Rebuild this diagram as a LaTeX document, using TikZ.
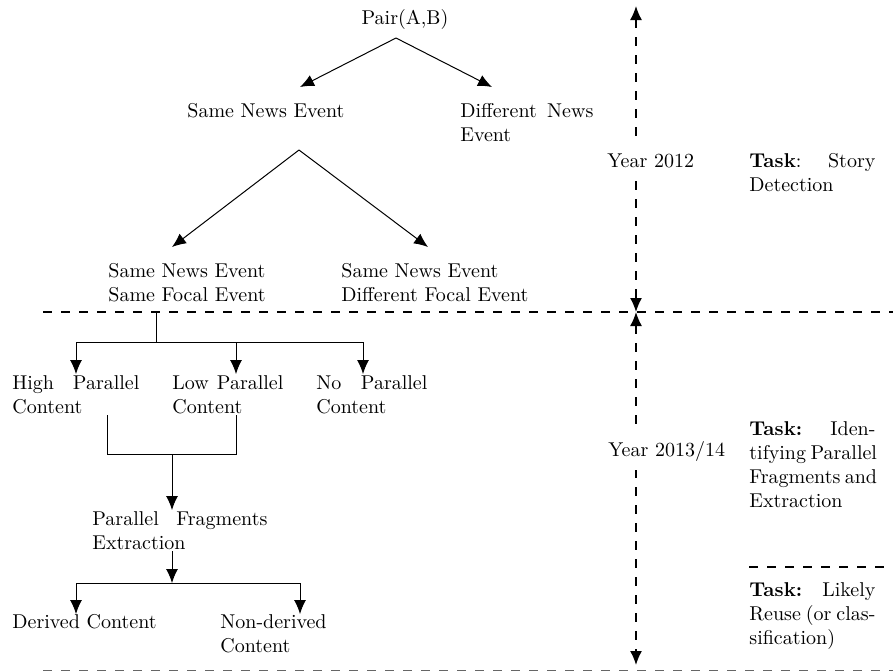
\documentclass[tikz,border=0pt]{standalone}
\usetikzlibrary{arrows.meta}
\newcommand{\jl}[2]{\makebox[#1][s]{\spaceskip=0pt\xspaceskip=0pt\relax #2}}
\begin{document}
\begin{tikzpicture}[x=0.5pt,y=-0.5pt,
  lbl/.style={inner sep=0pt, anchor=base west, align=left},
  conn/.style={line width=0.5pt},
  arr/.style={conn,-{Latex[length=7pt,width=6pt]}},
  dline/.style={line width=0.75pt, dash pattern=on 4.5pt off 4.5pt},
  ddarr/.style={dline,{Latex[length=7pt,width=6pt]}-{Latex[length=7pt,width=6pt]}},
  yearlbl/.style={inner xsep=1pt, inner ysep=4.5pt, anchor=base west, fill=white}]
\useasboundingbox (0,0) rectangle (893,670);

% dashed separators and time axis
\coordinate (hl) at (43,312);
\coordinate (hr) at (893,312);
\coordinate (vtop) at (636,6);
\coordinate (vmid) at (636,312);
\coordinate (vbot) at (636,665);
\coordinate (sl) at (749,567);
\coordinate (sr) at (893,567);
\coordinate (bl) at (43,671);
\coordinate (br) at (893,671);
\draw[dline] (hl) -- (hr);
\draw[dline] (sl) -- (sr);
\draw[dline, black!60] (bl) -- (br);
\draw[ddarr] (vtop) -- (vmid);
\draw[ddarr] (vmid) -- (vbot);

\node[yearlbl] (y12) at (605,167) {Year 2012};
\node[yearlbl] (y13) at (606,456) {Year 2013/14};

\node[lbl, text width=63pt] (t1) at (749,167) {\jl{63pt}{\textbf{Task}: Story}\\Detection};
\node[lbl, text width=63pt] (t2) at (749,435) {\jl{63pt}{\textbf{Task:} Iden-}\\\jl{63pt}{tifying Parallel}\\\jl{63pt}{Fragments and}\\Extraction};
\node[lbl, text width=63pt] (t3) at (749,596) {\jl{63pt}{\textbf{Task:} Likely}\\\jl{63pt}{Reuse (or clas-}\\sification)};

% tree
\node[lbl, anchor=base] (pair) at (405,24) {Pair(A,B)};
\node[lbl] (same) at (187,117) {Same News Event};
\node[lbl, text width=66.5pt] (diff) at (460,117) {\jl{66.5pt}{Different News}\\Event};
\node[lbl, text width=90pt] (snsf) at (108,277) {Same News Event\\Same Focal Event};
\node[lbl, text width=100pt] (sndf) at (341,277) {Same News Event\\Different Focal Event};
\node[lbl, text width=63.5pt] (high) at (12,389) {\jl{63.5pt}{High Parallel}\\Content};
\node[lbl, text width=55.5pt] (low) at (172,389) {\jl{55.5pt}{Low Parallel}\\Content};
\node[lbl, text width=55.5pt] (none) at (316,389) {\jl{55.5pt}{No Parallel}\\Content};
\node[lbl, text width=87.5pt] (pfe) at (92,525) {\jl{87.5pt}{Parallel Fragments}\\Extraction};
\node[lbl] (derived) at (12,628) {Derived Content};
\node[lbl, text width=60pt] (nonder) at (220,628) {Non-derived\\Content};

% connector points
\coordinate (a1) at (396,38);
\coordinate (a1l) at (300,87);
\coordinate (a1r) at (492,87);
\coordinate (a2) at (299,150);
\coordinate (a2l) at (172,247);
\coordinate (a2r) at (428,247);
\coordinate (b0) at (156,312);
\coordinate (b1) at (156,342);
\coordinate (bL) at (76,342);
\coordinate (bM) at (236,342);
\coordinate (bR) at (363,342);
\coordinate (bLt) at (76,374);
\coordinate (bMt) at (236,374);
\coordinate (bRt) at (363,374);
\coordinate (c1) at (107,415);
\coordinate (c2) at (107,454);
\coordinate (c3) at (236,454);
\coordinate (c4) at (236,415);
\coordinate (cm) at (172,454);
\coordinate (cmt) at (172,510);
\coordinate (d0) at (172,551);
\coordinate (d1) at (172,583);
\coordinate (dL) at (76,583);
\coordinate (dR) at (300,583);
\coordinate (dLt) at (76,614);
\coordinate (dRt) at (300,614);

\draw[arr] (a1) -- (a1l);
\draw[arr] (a1) -- (a1r);
\draw[arr] (a2) -- (a2l);
\draw[arr] (a2) -- (a2r);
\draw[conn] (b0) -- (b1);
\draw[conn] (bL) -- (bR);
\draw[arr] (bL) -- (bLt);
\draw[arr] (bM) -- (bMt);
\draw[arr] (bR) -- (bRt);
\draw[conn] (c1) -- (c2) -- (c3) -- (c4);
\draw[arr] (cm) -- (cmt);
\draw[arr] (d0) -- (d1);
\draw[conn] (dL) -- (dR);
\draw[arr] (dL) -- (dLt);
\draw[arr] (dR) -- (dRt);
\end{tikzpicture}
\end{document}
